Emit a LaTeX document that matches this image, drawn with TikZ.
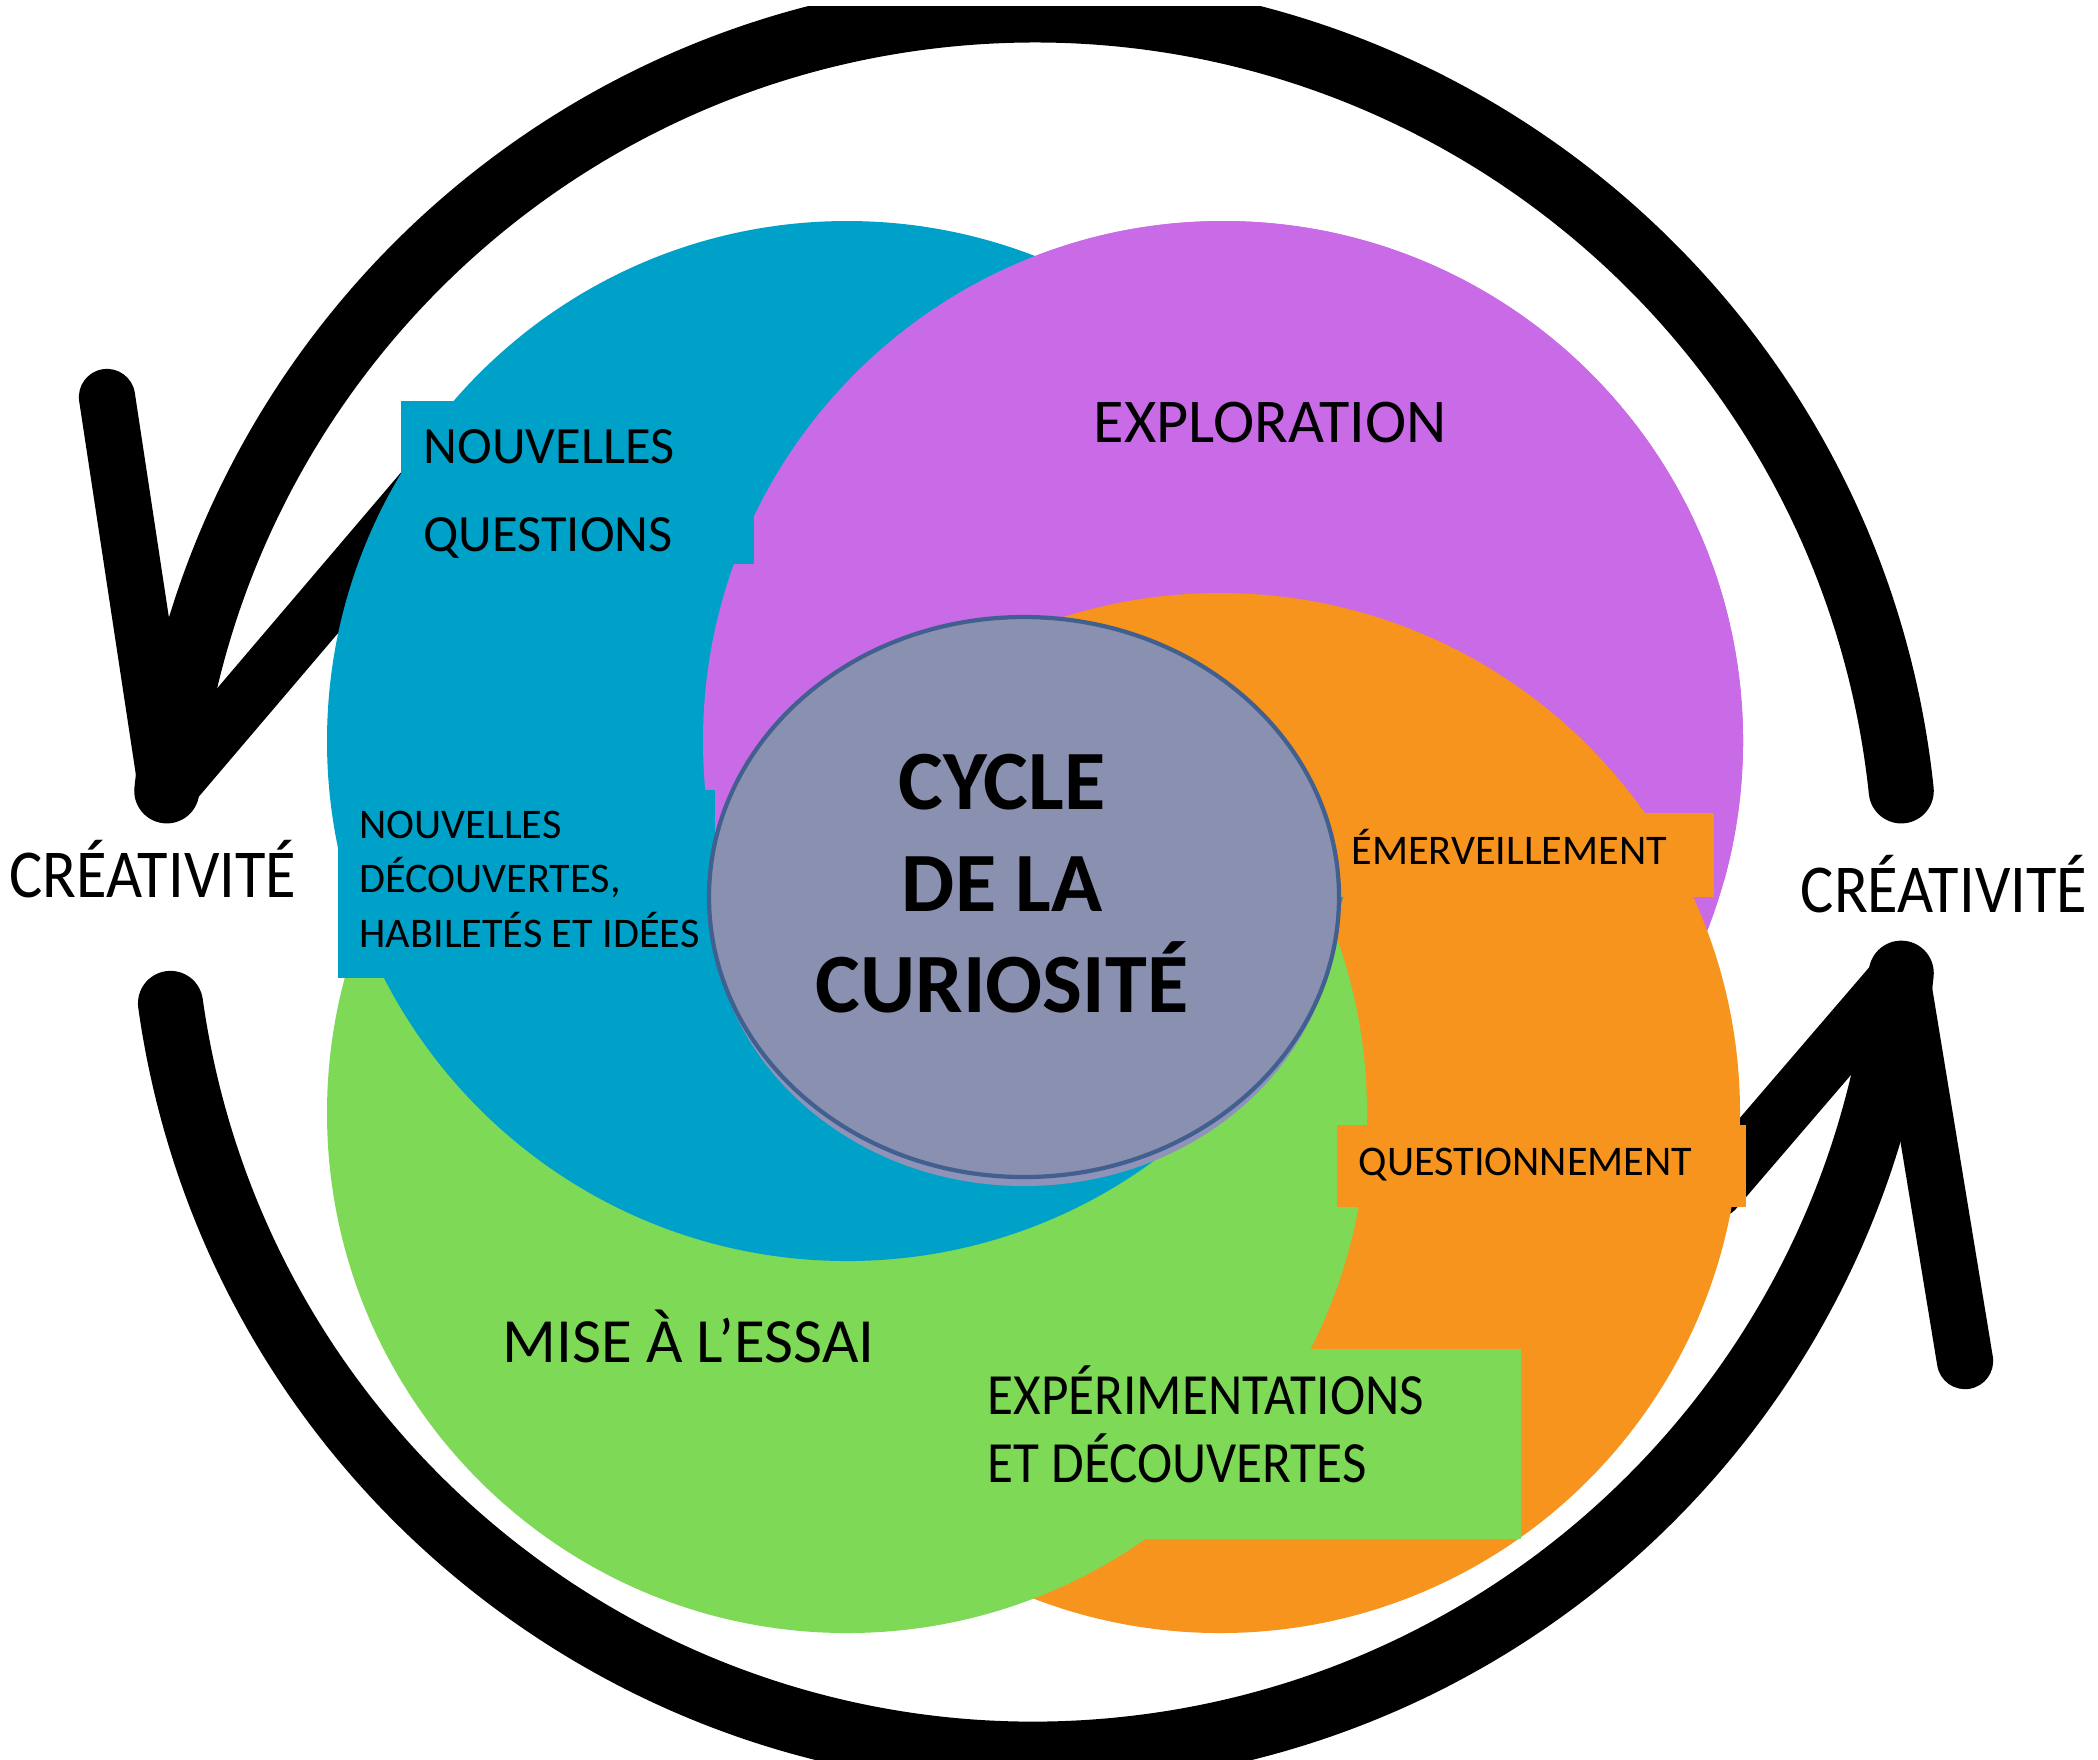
\documentclass[tikz,border=0pt]{standalone}
\usepackage{fontspec}
\setmainfont{Carlito}
\newfontfamily\narrowfont[FakeStretch=0.91]{Carlito}
\definecolor{cblue}{HTML}{00A1C9}
\definecolor{cpurple}{HTML}{C96AE6}
\definecolor{corange}{HTML}{F7941D}
\definecolor{cgreen}{HTML}{7ED957}
\definecolor{cgray}{HTML}{8A90B0}
\definecolor{cshade}{HTML}{8F93B8}
\definecolor{cedge}{HTML}{41608F}
\newcommand\textrows[1]{\begin{tabular}[t]{@{}l@{}}#1\end{tabular}}

\begin{document}
\begin{tikzpicture}[x=0.01cm,y=0.01cm,
    ring/.style={line width=18.5pt,line cap=round},
    barb/.style={line width=16pt,line cap=round,line join=round},
    txt/.style={inner sep=0pt,anchor=base west},
    small/.style={txt,font=\fontsize{12}{15.5}\selectfont},
    big/.style={txt,font=\narrowfont\fontsize{19.5}{23}\selectfont}]
  \path[use as bounding box,fill=white] (0,0) rectangle (2098,-1759);

  \coordinate (O) at (1034,-882);
  \coordinate (cb) at (847,-741);
  \coordinate (cp) at (1223,-741);
  \coordinate (co) at (1220,-1113);
  \coordinate (cg) at (847,-1113);

  % the two arrows round the picture
  \draw[ring] (O) ++(6:872) coordinate (endTop)
    arc[start angle=6,end angle=174,radius=872] coordinate (tipL);
  \draw[ring] (O) ++(188:872) coordinate (endBot)
    arc[start angle=188,end angle=354,radius=872] coordinate (tipR);
  \coordinate (barbL) at (107,-397);
  \coordinate (innerL) at (440,-470);
  \coordinate (barbR) at (1965,-1361);
  \coordinate (innerR) at (1715,-1190);
  \draw[barb] (barbL) -- (tipL) -- (innerL);
  \draw[barb] (barbR) -- (tipR) -- (innerR);
  \fill[white] (0,0) rectangle (2098,-6);

  \fill[white] (0,-825) rectangle (338,-918);
  \node[big] (creaL) at (9,-897) {CRÉATIVITÉ};
  \fill[white] (1778,-838) rectangle (2098,-934);
  \node[big] (creaR) at (1800,-912) {CRÉATIVITÉ};

  % the four circles
  \fill[cpurple] (cp) circle[radius=520];
  \fill[corange] (co) circle[radius=520];
  \fill[cgreen] (cg) circle[radius=520];
  \fill[cblue] (cb) circle[radius=520];
  \begin{scope}
    \clip (600,0) rectangle (2098,-880);
    \fill[cpurple] (cp) circle[radius=520];
    \fill[corange] (co) circle[radius=520];
  \end{scope}

  % boxes behind the texts
  \fill[cblue] (401,-401) rectangle (754,-564);
  \fill[cblue] (338,-790) rectangle (715,-978);
  \fill[corange] (1336,-813) rectangle (1714,-897);
  \fill[corange] (1337,-1125) rectangle (1746,-1207);
  \fill[cgreen] (975,-1349) rectangle (1521,-1539);

  % centre
  \fill[cshade] (1024,-906) ellipse[x radius=313,y radius=280];
  \draw[cedge,line width=1.2pt,fill=cgray] (1024,-897) ellipse[x radius=315,y radius=280];
  \node[inner sep=0pt,anchor=base,font=\bfseries\fontsize{24}{29}\selectfont] (title)
    at (1002,-809) {\begin{tabular}[t]{@{}c@{}}CYCLE\\DE LA\\CURIOSITÉ\end{tabular}};

  \node[txt,font=\fontsize{14.9}{25.3}\selectfont] (questions) at (423,-463)
    {\textrows{NOUVELLES\\QUESTIONS}};
  \node[small] (ideas) at (359,-838)
    {\textrows{NOUVELLES\\DÉCOUVERTES,\\HABILETÉS ET IDÉES}};
  \node[txt,font=\fontsize{17.7}{21}\selectfont] (explo) at (1093,-442) {EXPLORATION};
  \node[small] (wonder) at (1351,-864) {ÉMERVEILLEMENT};
  \node[small] (asking) at (1358,-1175) {QUESTIONNEMENT};
  \node[txt,font=\fontsize{17.9}{21}\selectfont] (trial) at (502,-1362) {MISE À L’ESSAI};
  \node[txt,font=\narrowfont\fontsize{16.6}{19}\selectfont] (experiments) at (987,-1414)
    {\textrows{EXPÉRIMENTATIONS\\ET DÉCOUVERTES}};
\end{tikzpicture}
\end{document}
